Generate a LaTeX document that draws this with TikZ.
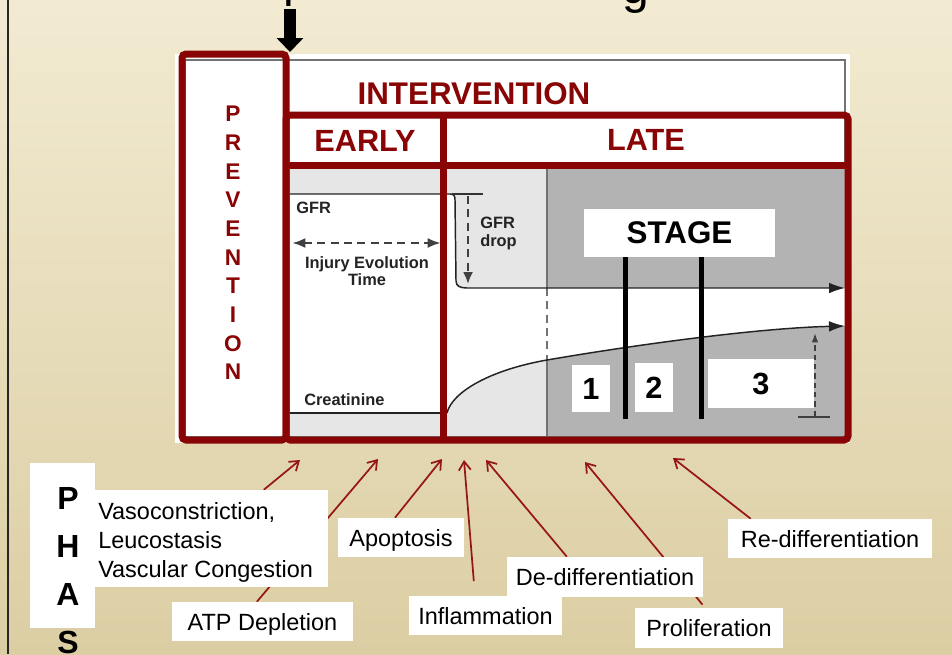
\documentclass[tikz,border=0pt]{standalone}
\usepackage{fontspec}
\setmainfont{Liberation Sans}
\usetikzlibrary{arrows.meta}
\definecolor{dred}{RGB}{137,4,4}
\definecolor{arrred}{RGB}{150,22,22}
\definecolor{bgtop}{RGB}{242,235,210}
\definecolor{bgbot}{RGB}{220,206,163}
\definecolor{lgray}{RGB}{230,230,230}
\definecolor{dgray}{RGB}{179,179,179}
\definecolor{cline}{RGB}{35,35,35}
\pgfdeclarelayer{front}
\pgfsetlayers{main,front}
\tikzset{
  redline/.style={draw=dred, line width=5.25pt},
  lab/.style={fill=white, inner sep=0pt, text=black, text depth=0pt, font=\fontsize{17.6}{21.75}\selectfont},
  numbox/.style={fill=white, inner sep=0pt, text=black, font=\bfseries\fontsize{23}{23}\selectfont},
  chartlab/.style={inner sep=0pt, text=cline, font=\bfseries\fontsize{12.3}{13.2}\selectfont},
  headlab/.style={inner sep=0pt, text=dred, font=\bfseries\fontsize{23.5}{23.5}\selectfont},
  pharrow/.style={draw=arrred, line width=1.3pt, -{Straight Barb[length=6.5pt,width=9pt]}},
  curveline/.style={draw=cline, line width=1.1pt},
  gline/.style={draw=black!55, line width=0.8pt},
}
\begin{document}
\begin{tikzpicture}[x=0.75pt,y=-0.75pt]
\useasboundingbox (0,0) rectangle (952,654);
\clip (0,0) rectangle (952,654);
% background
\shade[top color=bgtop, bottom color=bgbot] (0,0) rectangle (952,654);
\draw[line width=2.2pt, black!85] (8,0) -- (8,654);
% title fragments (cut off at top)
\node[anchor=base west, inner sep=0pt, font=\fontsize{36}{36}\selectfont] (ttlp) at (283,-4) {p};
\node[anchor=base west, inner sep=0pt, font=\fontsize{36}{36}\selectfont] (ttlg) at (622,3) {g};
% top arrow
\coordinate (arrS) at (290,9);
\coordinate (arrE) at (290,52);
\draw[line width=9pt, -{Triangle[length=10.5pt,width=19.5pt]}] (arrS) -- (arrE);
% chart background
\fill[white] (175,54) rectangle (850,443);
\draw[black!55, line width=1.2pt] (185,60) rectangle (845,437);
\fill[lgray] (290,168) rectangle (547,436);
\fill[dgray] (547,168) rectangle (845,436);
\fill[white] (290,194) -- (450,194) .. controls (454,194) and (455,196) .. (455,200)
  -- (456,281) .. controls (456,286) and (460,288) .. (467,288) -- (845,288) -- (845,326)
  .. controls (760,328) and (640,344) .. (547,360)
  .. controls (490,370) and (452,392) .. (447,413) -- (290,413) -- cycle;
\draw[gline] (547,168) -- (547,288);
\draw[gline] (547,360) -- (547,436);
\draw[gline, dash pattern=on 6pt off 4pt] (547,288) -- (547,360);
% GFR and creatinine curves
\draw[curveline, -{Latex[length=12pt,width=8pt]}] (290,194) -- (450,194) .. controls (454,194) and (455,196) .. (455,200)
  -- (456,281) .. controls (456,286) and (460,288) .. (467,288) -- (845,288);
\draw[curveline] (290,413) -- (443,413);
\draw[curveline, -{Latex[length=12pt,width=8pt]}] (447,413) .. controls (452,392) and (490,370) .. (547,360)
  .. controls (640,344) and (760,328) .. (845,326);
% GFR drop marker
\draw[line width=2.2pt, black!80] (452,194) -- (483,194);
\draw[line width=1.6pt, black!75, dash pattern=on 6pt off 4pt, -{Latex[length=9pt,width=7.5pt]}] (468,196) -- (468,284);
% injury evolution time
\draw[line width=2pt, black!75, dash pattern=on 6pt off 4pt, {Latex[length=10pt,width=7.5pt]}-{Latex[length=10pt,width=7.5pt]}] (292,243) -- (441,243);
% right marker
\draw[line width=2.2pt, black!75] (798,417) -- (830,417);
\draw[line width=1.2pt, black!75, dash pattern=on 4pt off 3pt, -{Latex[length=7pt,width=5pt]}] (815,416) -- (815,333);
% chart labels
\node[chartlab, anchor=west] (gfr) at (296,208) {GFR};
\node[chartlab, anchor=west, align=left, font=\bfseries\fontsize{12.3}{13.5}\selectfont] (gfrdrop) at (480,233) {GFR\\drop};
\node[chartlab, align=center, font=\bfseries\fontsize{12.3}{12.75}\selectfont] (injury) at (367,271) {Injury Evolution\\Time};
\node[chartlab, anchor=west] (creat) at (304,400) {Creatinine};
% stage lines and boxes
\draw[line width=3.75pt] (625,257) -- (625,419);
\draw[line width=3.75pt] (701,257) -- (701,419);
\node[numbox, minimum width=143.25pt, minimum height=36pt, font=\bfseries\fontsize{23.5}{23.5}\selectfont] (stage) at (679.5,233) {STAGE};
\node[numbox, minimum width=28.5pt, minimum height=35.25pt] (s1) at (591,388.5) {1};
\node[numbox, minimum width=28.5pt, minimum height=36.75pt] (s2) at (654,387.5) {2};
\node[numbox, minimum width=79.5pt, minimum height=36.75pt] (s3) at (761,383.5) {3};
% red frames
\draw[redline, rounded corners=3pt] (182,54) rectangle (286,440);
\draw[redline, rounded corners=3pt] (286,115) rectangle (848,440);
\draw[redline] (286,165) -- (848,165);
\draw[redline] (443,115) -- (443,440);
% headings
\node[headlab] (interv) at (474,94) {INTERVENTION};
\node[headlab, font=\bfseries\fontsize{23}{23}\selectfont] (early) at (365,141) {EARLY};
\node[headlab, font=\bfseries\fontsize{23}{23}\selectfont] (late) at (646,140) {LATE};
\node[headlab, align=center, font=\bfseries\fontsize{17}{21.5}\selectfont] (prev) at (233,243) {P\\R\\E\\V\\E\\N\\T\\I\\O\\N};
% bottom labels (front layer)
\begin{pgfonlayer}{front}
\node[fill=white, inner sep=0pt, minimum width=48.75pt, minimum height=123.75pt] (phasbox) at (62.5,545.5) {};
\node[inner sep=0pt, align=center, font=\bfseries\fontsize{24}{36}\selectfont] (phas) at (68,570.5) {P\\H\\A\\S};
\node[fill=white, inner sep=0pt, minimum width=174.75pt, minimum height=72.75pt] (vasobox) at (211.5,538.5) {};
\node[inner sep=0pt, anchor=west, align=left, text=black, font=\fontsize{17.6}{21.75}\selectfont] (vaso) at (98,542) {Vasoconstriction,\\Leucostasis\\Vascular Congestion};
\node[lab, minimum width=94.5pt, minimum height=29.25pt] (apop) at (401,537.5) {Apoptosis};
\node[lab, minimum width=135.75pt, minimum height=29.25pt] (atp) at (262.5,621.5) {ATP Depletion};
\node[lab, minimum width=114.75pt, minimum height=29.25pt] (infl) at (485.5,615.5) {Inflammation};
\node[lab, minimum width=147pt, minimum height=30pt] (dediff) at (605,577) {De-differentiation};
\node[lab, minimum width=111pt, minimum height=30pt] (prolif) at (709,628) {Proliferation};
\node[lab, minimum width=153pt, minimum height=29.25pt] (rediff) at (830,538.5) {Re-differentiation};
\end{pgfonlayer}
% arrow tips
\coordinate (t1) at (300,460);
\coordinate (t2) at (378,459);
\coordinate (t3) at (442,459);
\coordinate (t4) at (464,460);
\coordinate (t5) at (486,460);
\coordinate (t6) at (585,462);
\coordinate (t7) at (673,458);
\draw[pharrow] (vasobox.43) -- (t1);
\draw[pharrow] (atp.106) -- (t2);
\draw[pharrow] (apop.107) -- (t3);
\draw[pharrow, shorten <=11pt] (infl.118) -- (t4);
\draw[pharrow] (dediff.152) -- (t5);
\draw[pharrow, shorten <=3pt] (prolif.101) -- (t6);
\draw[pharrow] (rediff.166) -- (t7);
\end{tikzpicture}
\end{document}
